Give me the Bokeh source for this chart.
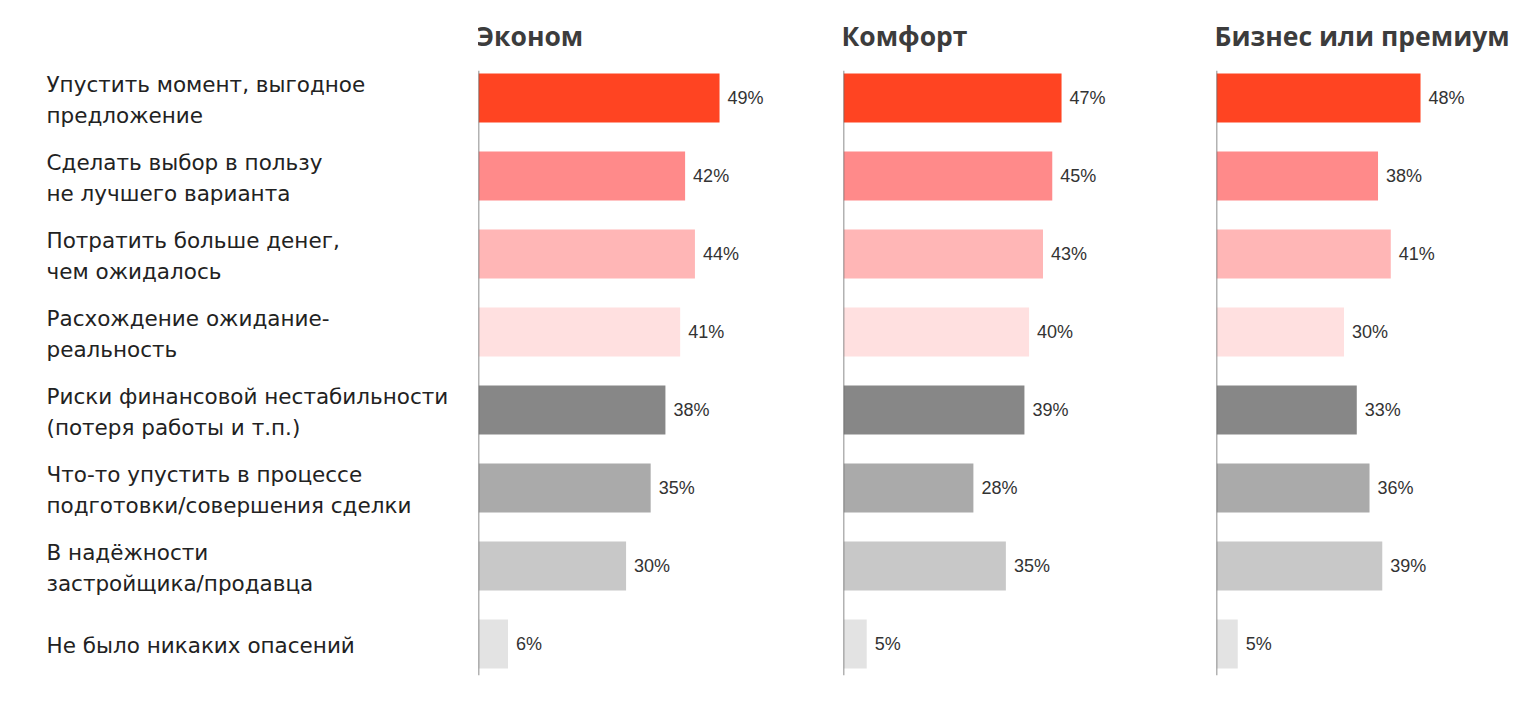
from bokeh.plotting import figure
from bokeh.models import Range1d, Span, ColumnDataSource
from bokeh.layouts import row
from bokeh.embed import file_html
from bokeh.resources import INLINE
from bokeh.core.properties import value

categories = [
    "Упустить момент, выгодное\nпредложение",
    "Сделать выбор в пользу\nне лучшего варианта",
    "Потратить больше денег,\nчем ожидалось",
    "Расхождение ожидание-\nреальность",
    "Риски финансовой нестабильности\n(потеря работы и т.п.)",
    "Что-то упустить в процессе\nподготовки/совершения сделки",
    "В надёжности\nзастройщика/продавца",
    "Не было никаких опасений",
]
panel_titles = ["Эконом", "Комфорт", "Бизнес или премиум"]
econom = [49, 42, 44, 41, 38, 35, 30, 6]
comfort = [47, 45, 43, 40, 39, 28, 35, 5]
business = [48, 38, 41, 30, 33, 36, 39, 5]
colors = ["#FF4422", "#FF8A8A", "#FFB6B6", "#FFE0E0",
          "#878787", "#AAAAAA", "#C8C8C8", "#E3E3E3"]

rows_idx = list(range(len(categories)))
H = 708
TOP = 70
BOTTOM = 33

def yrange():
    return Range1d(start=7.404, end=-0.353)

def base_fig(width, xr, title=None):
    p = figure(width=width, height=H, x_range=xr, y_range=yrange(),
               output_backend="svg", toolbar_location=None,
               min_border_left=0, min_border_right=0,
               min_border_top=TOP, min_border_bottom=BOTTOM,
               title=title)
    p.axis.visible = False
    p.grid.visible = False
    p.outline_line_color = None
    p.background_fill_color = "white"
    p.border_fill_color = "white"
    if title:
        p.title.text_font = "Open Sans"
        p.title.text_font_size = "26.5px"
        p.title.text_font_style = "bold"
        p.title.text_color = "#3c3c3c"
        p.title.align = "left"
        p.title.vertical_align = "top"
        p.title.offset = -2
        p.title.standoff = 30
    return p

# label column
lab = base_fig(478, Range1d(0, 1))
lab.text(x=[0] * len(categories), y=rows_idx, text=categories,
         x_offset=46, y_offset=2, text_baseline="middle", text_align="left",
         text_font=value("DejaVu Sans"), text_font_size="21.5px",
         text_color="#222222", text_line_height=1.24)

figs = [lab]
for title, vals, width, xmax in [
    (panel_titles[0], econom, 365, 74.2),
    (panel_titles[1], comfort, 373, 80.4),
    (panel_titles[2], business, 312, 73.4),
]:
    p = base_fig(width, Range1d(0, xmax), title)
    src = ColumnDataSource(dict(y=rows_idx, v=vals, c=colors,
                                t=[f"{v}%" for v in vals]))
    p.hbar(y="y", left=0, right="v", height=0.63, fill_color="c",
           line_color=None, source=src)
    p.text(x="v", y="y", text="t", source=src, x_offset=8,
           text_baseline="middle", text_align="left",
           text_font=value("Liberation Sans"), text_font_size="18px",
           text_color="#333333")
    p.add_layout(Span(location=0, dimension="height",
                      line_color="#666666", line_width=1.5))
    figs.append(p)

layout = row(*figs, spacing=0)
open("out.html", "w").write(file_html(layout, INLINE))
